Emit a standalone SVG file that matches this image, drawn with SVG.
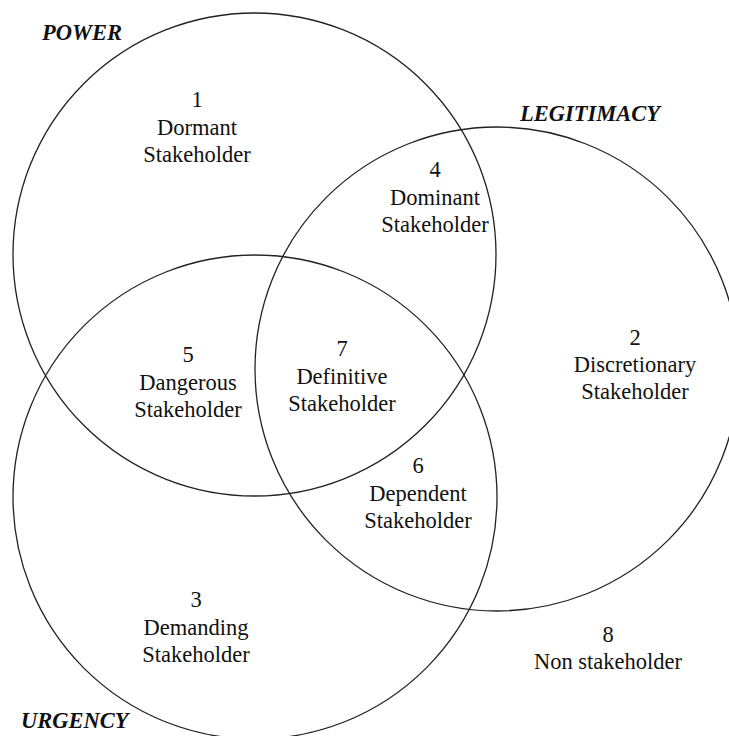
<svg xmlns="http://www.w3.org/2000/svg" width="729" height="736" viewBox="0 0 729 736">
<style>
.c{fill:none;stroke:#222;stroke-width:1.3}
.t{font-family:"Liberation Serif","Times New Roman",serif;font-size:22.5px;fill:#111;text-anchor:middle}
.h{font-family:"Liberation Serif","Times New Roman",serif;font-size:22.5px;font-weight:bold;font-style:italic;fill:#111}
</style>
<rect width="729" height="736" fill="#fff"/>
<g id="circles">
<circle id="power" class="c" cx="254.5" cy="254.5" r="241.5"/>
<circle id="legitimacy" class="c" cx="497" cy="369" r="242"/>
<circle id="urgency" class="c" cx="255" cy="497" r="242"/>
</g>
<g id="titles">
<text class="h" x="42" y="40">POWER</text>
<text class="h" x="520" y="121">LEGITIMACY</text>
<text class="h" x="21" y="728">URGENCY</text>
</g>
<g id="n1"><text class="t" x="197" y="107">1</text><text class="t" x="197" y="135">Dormant</text><text class="t" x="197" y="162">Stakeholder</text></g>
<g id="n4"><text class="t" x="435" y="177">4</text><text class="t" x="435" y="205">Dominant</text><text class="t" x="435" y="232">Stakeholder</text></g>
<g id="n5"><text class="t" x="188" y="362">5</text><text class="t" x="188" y="390">Dangerous</text><text class="t" x="188" y="417">Stakeholder</text></g>
<g id="n7"><text class="t" x="342" y="356">7</text><text class="t" x="342" y="384">Definitive</text><text class="t" x="342" y="411">Stakeholder</text></g>
<g id="n2"><text class="t" x="635" y="345">2</text><text class="t" x="635" y="372">Discretionary</text><text class="t" x="635" y="399">Stakeholder</text></g>
<g id="n6"><text class="t" x="418" y="473">6</text><text class="t" x="418" y="501">Dependent</text><text class="t" x="418" y="528">Stakeholder</text></g>
<g id="n3"><text class="t" x="196" y="607">3</text><text class="t" x="196" y="635">Demanding</text><text class="t" x="196" y="662">Stakeholder</text></g>
<g id="n8"><text class="t" x="608" y="642">8</text><text class="t" x="608" y="669">Non stakeholder</text></g>
</svg>
